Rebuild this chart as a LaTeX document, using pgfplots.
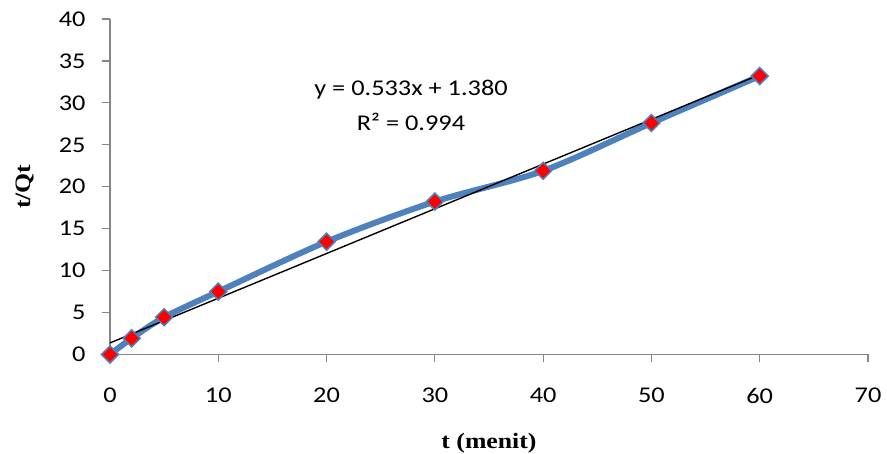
\documentclass[border=0pt]{standalone}
\usepackage{pgfplots}
\pgfplotsset{compat=1.18}
\usepackage{fontspec}
\setmainfont{Carlito}[FakeStretch=1.17]
\newfontfamily\labfont{Liberation Serif}[FakeStretch=1.17]
\definecolor{xlblue}{RGB}{79,129,189}
\definecolor{axgray}{RGB}{134,134,134}
\begin{document}
\begin{tikzpicture}
\useasboundingbox (-110pt,-99.5pt) rectangle (777pt,354.5pt);
\begin{axis}[
  name=ax, scale only axis, width=758pt, height=335.5pt,
  xmin=0, xmax=70, ymin=0, ymax=40,
  xtick={0,10,...,70}, ytick={0,5,...,40},
  axis x line*=bottom, axis y line*=left,
  axis line style={axgray, line width=1.2pt, -},
  tick style={axgray, line width=1.2pt},
  tick align=outside, major tick length=8pt,
  clip=false,
  /pgf/number format/assume math mode=true,
  ticklabel style={font=\fontsize{22.5}{26}\selectfont, text=black},
  xticklabel style={yshift=-22pt},
  yticklabel style={xshift=-13pt},
  xlabel={\labfont\bfseries t (menit)},
  ylabel={\labfont\bfseries t/Qt},
  label style={font=\fontsize{22}{26}\selectfont},
  xlabel style={at={(axis description cs:0.5,-0.265)}, anchor=center},
  ylabel style={at={(axis description cs:-0.1121,0.5)}, anchor=center},
]
\addplot[xlblue, line width=6pt, smooth, mark=square*, mark size=6pt,
  mark options={fill=red, draw=xlblue, line width=1.5pt, solid, rotate=45}]
  coordinates {(0,0) (2,1.93) (5,4.44) (10,7.5) (20,13.45) (30,18.23) (40,21.9) (50,27.6) (60,33.2)};
\addplot[black, line width=1.4pt] coordinates {(0,1.38) (60,33.36)};
\node[font=\fontsize{22.5}{26}\selectfont] at (axis cs:27.8,31.6) {y = 0.533x + 1.380};
\node[font=\fontsize{22.5}{26}\selectfont] at (axis cs:27.8,27.7) {R² = 0.994};
\end{axis}
\end{tikzpicture}
\end{document}
